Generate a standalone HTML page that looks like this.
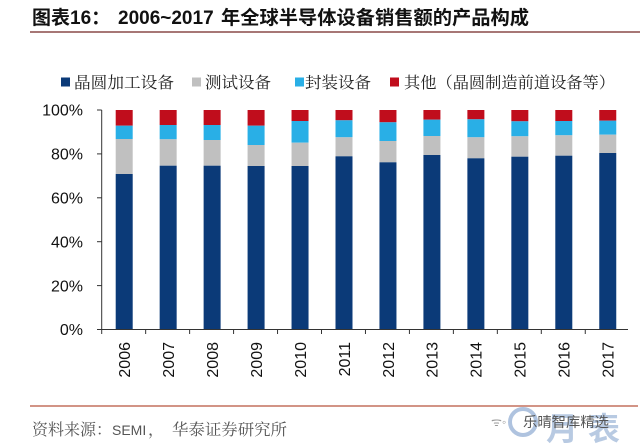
<!DOCTYPE html>
<html><head><meta charset="utf-8"><style>
html,body{margin:0;padding:0;background:#fff;}
svg{display:block;}
</style></head><body>
<svg width="640" height="448" viewBox="0 0 640 448" xmlns="http://www.w3.org/2000/svg">
<rect width="640" height="448" fill="#fff"/>
<text x="32" y="24" font-family="'Liberation Sans','Noto Sans CJK SC',sans-serif" font-weight="bold" font-size="19" fill="#111"><tspan>图表16：</tspan><tspan x="118">2006~2017</tspan><tspan x="221" textLength="308" lengthAdjust="spacingAndGlyphs">年全球半导体设备销售额的产品构成</tspan></text>
<line x1="30" y1="32" x2="640" y2="32" stroke="#8a4a48" stroke-width="1.6"/>
<g font-family="'Noto Serif CJK SC','Liberation Serif',serif" font-size="16" fill="#222">
<rect x="61" y="77.5" width="9" height="9" fill="#0b3a78"/>
<text x="74" y="88" textLength="100" lengthAdjust="spacingAndGlyphs">晶圆加工设备</text>
<rect x="192" y="77.5" width="9" height="9" fill="#c0c0c0"/>
<text x="205" y="88" textLength="66" lengthAdjust="spacingAndGlyphs">测试设备</text>
<rect x="295" y="77.5" width="9" height="9" fill="#29afe6"/>
<text x="305" y="88" textLength="66" lengthAdjust="spacingAndGlyphs">封装设备</text>
<rect x="390" y="77.5" width="9" height="9" fill="#c00d1c"/>
<text x="404" y="88" textLength="211" lengthAdjust="spacingAndGlyphs">其他（晶圆制造前道设备等）</text>
</g>
<g font-family="'Liberation Sans',sans-serif" font-size="16" fill="#111" text-anchor="end">
<text x="83" y="115.7">100%</text>
<text x="83" y="159.6">80%</text>
<text x="83" y="203.5">60%</text>
<text x="83" y="247.4">40%</text>
<text x="83" y="291.3">20%</text>
<text x="83" y="335.2">0%</text>
</g>
<g>
<rect x="115.7" y="110" width="17" height="15.7" fill="#c00d1c"/>
<rect x="115.7" y="125.7" width="17" height="13.3" fill="#29afe6"/>
<rect x="115.7" y="139" width="17" height="35" fill="#c0c0c0"/>
<rect x="115.7" y="174" width="17" height="155.5" fill="#0b3a78"/>
<rect x="159.66" y="110" width="17" height="15" fill="#c00d1c"/>
<rect x="159.66" y="125" width="17" height="14.3" fill="#29afe6"/>
<rect x="159.66" y="139.3" width="17" height="26.4" fill="#c0c0c0"/>
<rect x="159.66" y="165.7" width="17" height="163.8" fill="#0b3a78"/>
<rect x="203.62" y="110" width="17" height="15" fill="#c00d1c"/>
<rect x="203.62" y="125" width="17" height="15" fill="#29afe6"/>
<rect x="203.62" y="140" width="17" height="25.7" fill="#c0c0c0"/>
<rect x="203.62" y="165.7" width="17" height="163.8" fill="#0b3a78"/>
<rect x="247.58" y="110" width="17" height="15.7" fill="#c00d1c"/>
<rect x="247.58" y="125.7" width="17" height="19.3" fill="#29afe6"/>
<rect x="247.58" y="145" width="17" height="21" fill="#c0c0c0"/>
<rect x="247.58" y="166" width="17" height="163.5" fill="#0b3a78"/>
<rect x="291.54" y="110" width="17" height="11" fill="#c00d1c"/>
<rect x="291.54" y="121" width="17" height="21.7" fill="#29afe6"/>
<rect x="291.54" y="142.7" width="17" height="23.3" fill="#c0c0c0"/>
<rect x="291.54" y="166" width="17" height="163.5" fill="#0b3a78"/>
<rect x="335.5" y="110" width="17" height="10.3" fill="#c00d1c"/>
<rect x="335.5" y="120.3" width="17" height="17" fill="#29afe6"/>
<rect x="335.5" y="137.3" width="17" height="19" fill="#c0c0c0"/>
<rect x="335.5" y="156.3" width="17" height="173.2" fill="#0b3a78"/>
<rect x="379.46" y="110" width="17" height="12.3" fill="#c00d1c"/>
<rect x="379.46" y="122.3" width="17" height="18.7" fill="#29afe6"/>
<rect x="379.46" y="141" width="17" height="21.3" fill="#c0c0c0"/>
<rect x="379.46" y="162.3" width="17" height="167.2" fill="#0b3a78"/>
<rect x="423.42" y="110" width="17" height="9.7" fill="#c00d1c"/>
<rect x="423.42" y="119.7" width="17" height="16.3" fill="#29afe6"/>
<rect x="423.42" y="136" width="17" height="19" fill="#c0c0c0"/>
<rect x="423.42" y="155" width="17" height="174.5" fill="#0b3a78"/>
<rect x="467.38" y="110" width="17" height="9.3" fill="#c00d1c"/>
<rect x="467.38" y="119.3" width="17" height="18" fill="#29afe6"/>
<rect x="467.38" y="137.3" width="17" height="21" fill="#c0c0c0"/>
<rect x="467.38" y="158.3" width="17" height="171.2" fill="#0b3a78"/>
<rect x="511.34" y="110" width="17" height="11.3" fill="#c00d1c"/>
<rect x="511.34" y="121.3" width="17" height="15" fill="#29afe6"/>
<rect x="511.34" y="136.3" width="17" height="20.4" fill="#c0c0c0"/>
<rect x="511.34" y="156.7" width="17" height="172.8" fill="#0b3a78"/>
<rect x="555.3" y="110" width="17" height="11" fill="#c00d1c"/>
<rect x="555.3" y="121" width="17" height="14.3" fill="#29afe6"/>
<rect x="555.3" y="135.3" width="17" height="20.4" fill="#c0c0c0"/>
<rect x="555.3" y="155.7" width="17" height="173.8" fill="#0b3a78"/>
<rect x="599.26" y="110" width="17" height="10.7" fill="#c00d1c"/>
<rect x="599.26" y="120.7" width="17" height="14" fill="#29afe6"/>
<rect x="599.26" y="134.7" width="17" height="18.3" fill="#c0c0c0"/>
<rect x="599.26" y="153" width="17" height="176.5" fill="#0b3a78"/>
</g>
<g stroke="#333" stroke-width="1">
<line x1="101.7" y1="110" x2="101.7" y2="329.5"/>
<line x1="97" y1="110" x2="101.7" y2="110"/>
<line x1="97" y1="153.9" x2="101.7" y2="153.9"/>
<line x1="97" y1="197.8" x2="101.7" y2="197.8"/>
<line x1="97" y1="241.7" x2="101.7" y2="241.7"/>
<line x1="97" y1="285.6" x2="101.7" y2="285.6"/>
<line x1="97" y1="329.5" x2="628" y2="329.5"/>
<line x1="101.7" y1="329.5" x2="101.7" y2="334"/>
<line x1="145.66" y1="329.5" x2="145.66" y2="334"/>
<line x1="189.62" y1="329.5" x2="189.62" y2="334"/>
<line x1="233.58" y1="329.5" x2="233.58" y2="334"/>
<line x1="277.54" y1="329.5" x2="277.54" y2="334"/>
<line x1="321.5" y1="329.5" x2="321.5" y2="334"/>
<line x1="365.46" y1="329.5" x2="365.46" y2="334"/>
<line x1="409.42" y1="329.5" x2="409.42" y2="334"/>
<line x1="453.38" y1="329.5" x2="453.38" y2="334"/>
<line x1="497.34" y1="329.5" x2="497.34" y2="334"/>
<line x1="541.3" y1="329.5" x2="541.3" y2="334"/>
<line x1="585.26" y1="329.5" x2="585.26" y2="334"/>
</g>
<g font-family="'Liberation Sans',sans-serif" font-size="16" fill="#111" text-anchor="end">
<text transform="translate(130,342) rotate(-90)">2006</text>
<text transform="translate(173.96,342) rotate(-90)">2007</text>
<text transform="translate(217.92,342) rotate(-90)">2008</text>
<text transform="translate(261.88,342) rotate(-90)">2009</text>
<text transform="translate(305.84,342) rotate(-90)">2010</text>
<text transform="translate(349.8,342) rotate(-90)">2011</text>
<text transform="translate(393.76,342) rotate(-90)">2012</text>
<text transform="translate(437.72,342) rotate(-90)">2013</text>
<text transform="translate(481.68,342) rotate(-90)">2014</text>
<text transform="translate(525.64,342) rotate(-90)">2015</text>
<text transform="translate(569.6,342) rotate(-90)">2016</text>
<text transform="translate(613.56,342) rotate(-90)">2017</text>
</g>
<line x1="30" y1="406" x2="638" y2="406" stroke="#c4705e" stroke-width="1.4"/>
<text x="32" y="435" font-family="'Noto Serif CJK SC','Liberation Serif',serif" font-size="16" fill="#555"><tspan textLength="80" lengthAdjust="spacingAndGlyphs">资料来源：</tspan><tspan x="112" font-family="'Liberation Sans',sans-serif" font-size="14">SEMI</tspan><tspan x="148">，</tspan><tspan x="172" textLength="115" lengthAdjust="spacingAndGlyphs">华泰证券研究所</tspan></text>
<g opacity="0.55">
<circle cx="523" cy="422" r="13" fill="none" stroke="#6f93c6" stroke-width="4"/>
<text x="546" y="440" font-family="'Noto Sans CJK SC',sans-serif" font-weight="bold" font-size="32" fill="#7f9fcc">月</text>
<text x="588" y="440" font-family="'Noto Sans CJK SC',sans-serif" font-weight="bold" font-size="32" fill="#7f9fcc">表</text>
</g>
<text x="491" y="426" font-family="'Liberation Sans',sans-serif" font-size="12" fill="#999">ᯤ◦</text>
<text x="523" y="427" font-family="'Noto Sans CJK SC',sans-serif" font-size="14" fill="#555" textLength="86" lengthAdjust="spacingAndGlyphs">乐晴智库精选</text>
</svg>
</body></html>
